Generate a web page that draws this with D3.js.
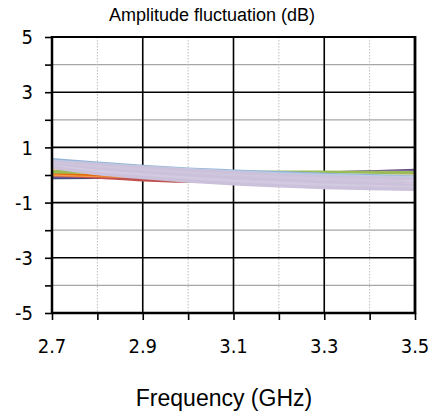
<!DOCTYPE html>
<html>
<head>
<meta charset="utf-8">
<script src="https://cdn.jsdelivr.net/npm/d3@7"></script>
<style>
  body { margin: 0; background: #fff; }
  .tick-label { font-family: "DejaVu Sans Condensed", "DejaVu Sans", sans-serif; font-stretch: condensed; font-size: 20px; fill: #000; }
  .title { font-family: "Liberation Sans", Arial, sans-serif; font-size: 18px; fill: #000; }
  .xlabel { font-family: "Liberation Sans", Arial, sans-serif; font-size: 23px; fill: #000; }
</style>
</head>
<body>
<svg width="436" height="412"></svg>
<script>
// frequencies (GHz)
var freqs = [2.7, 2.8, 2.9, 3.0, 3.1, 3.2, 3.3, 3.4, 3.5];
var xTicks = [2.7, 2.9, 3.1, 3.3, 3.5];
var yTicks = [5, 3, 1, -1, -3, -5];

// amplitude fluctuation per curve (dB), drawn in order
var gray      = [0.10, 0.00, -0.10, -0.18, -0.25, -0.30, -0.35, -0.40, -0.44];
var navy      = [-0.09, -0.08, -0.06, -0.04, -0.02, 0.01, 0.05, 0.09, 0.13];
var darkPurp  = [-0.06, -0.07, -0.06, -0.03, 0.00, 0.03, 0.07, 0.11, 0.16];
var purple    = [-0.03, -0.04, -0.04, -0.02, 0.01, 0.04, 0.07, 0.10, 0.13];
var red       = [0.02, -0.07, -0.17, -0.22, -0.20, -0.14, -0.06, 0.02, 0.07];
var orange2   = [0.02, -0.02, -0.05, -0.07, -0.08, -0.07, -0.06, -0.04, -0.03];
var orange    = [0.24, 0.10, 0.01, -0.04, -0.06, -0.06, -0.05, -0.03, -0.02];
var darkOr    = [0.09, 0.02, -0.04, -0.07, -0.08, -0.07, -0.05, -0.03, 0.00];
var peach     = [0.16, 0.08, 0.00, -0.06, -0.09, -0.10, -0.10, -0.09, -0.08];
var green     = [0.12, 0.11, 0.10, 0.09, 0.09, 0.10, 0.10, 0.09, 0.08];
var pink      = [0.30, 0.18, 0.08, 0.00, -0.05, -0.08, -0.08, -0.06, -0.04];
var aqua      = [0.42, 0.33, 0.25, 0.18, 0.12, 0.06, 0.01, -0.03, -0.06];
var lgreen    = [0.36, 0.28, 0.20, 0.14, 0.09, 0.05, 0.01, -0.02, -0.05];
var lblue     = [0.55, 0.43, 0.31, 0.21, 0.14, 0.08, 0.02, -0.03, -0.08];
var lblue2    = [0.50, 0.39, 0.28, 0.19, 0.11, 0.04, -0.02, -0.06, -0.10];
var lav1      = [0.47, 0.37, 0.27, 0.17, 0.08, 0.00, -0.06, -0.10, -0.14];
var lav2      = [0.41, 0.29, 0.18, 0.08, -0.01, -0.09, -0.15, -0.21, -0.26];
var lav3      = [0.36, 0.22, 0.09, -0.02, -0.11, -0.19, -0.26, -0.32, -0.37];
var lav4      = [0.32, 0.13, 0.00, -0.12, -0.22, -0.30, -0.37, -0.42, -0.46];
var lav5      = [0.29, 0.05, -0.09, -0.22, -0.32, -0.39, -0.45, -0.49, -0.52];

var curves = [gray, navy, darkPurp, purple, red, orange2, orange, darkOr, peach, green, pink,
              aqua, lgreen, lblue, lblue2, lav1, lav2, lav3, lav4, lav5];
var colors = ["#D9D9D9", "#1F497D", "#604A7B", "#8064A2", "#C0504D", "#F79646", "#F79646",
              "#E46C0A", "#FAC090", "#9BBB59", "#E6B9B8", "#93CDDD", "#D7E4BD", "#95B3D7",
              "#B9CDE5", "#CCC1DA", "#CFC6DE", "#CCC1DA", "#D2CAE0", "#CCC1DA"];

var svg = d3.select("svg");
var pLeft = 52, pRight = 415, pTop = 37, pBottom = 313;

var x = d3.scaleLinear().domain([2.7, 3.5]).range([pLeft, pRight]);
var y = d3.scaleLinear().domain([-5, 5]).range([pBottom, pTop]);

var g = svg.append("g");

// minor horizontal grid
g.selectAll(".hminor").data([4, 2, 0, -2, -4]).enter().append("line")
  .attr("x1", pLeft).attr("x2", pRight)
  .attr("y1", function(d) { return y(d); }).attr("y2", function(d) { return y(d); })
  .attr("stroke", "#a6a6a6").attr("stroke-width", 1.2);

// minor vertical dotted grid
g.selectAll(".vminor").data([2.8, 3.0, 3.2, 3.4]).enter().append("line")
  .attr("x1", function(d) { return x(d); }).attr("x2", function(d) { return x(d); })
  .attr("y1", pTop).attr("y2", pBottom)
  .attr("stroke", "#bdbdbd").attr("stroke-width", 1).attr("stroke-dasharray", "1.5,1.5");

// major grid
g.selectAll(".hmajor").data([5, 3, 1, -1, -3]).enter().append("line")
  .attr("x1", pLeft).attr("x2", pRight)
  .attr("y1", function(d) { return y(d); }).attr("y2", function(d) { return y(d); })
  .attr("stroke", "#000").attr("stroke-width", 1.6);
g.selectAll(".vmajor").data([2.9, 3.1, 3.3]).enter().append("line")
  .attr("x1", function(d) { return x(d); }).attr("x2", function(d) { return x(d); })
  .attr("y1", pTop).attr("y2", pBottom)
  .attr("stroke", "#000").attr("stroke-width", 1.6);

// curves
var line = d3.line()
  .x(function(d, i) { return x(freqs[i]); })
  .y(function(d) { return y(d); })
  .curve(d3.curveMonotoneX);

svg.append("g").selectAll("path").data(curves).enter().append("path")
  .attr("d", line)
  .attr("fill", "none")
  .attr("stroke", function(d, i) { return colors[i]; })
  .attr("stroke-width", 3.5);

// axes
var yAxis = d3.axisLeft(y).tickValues(d3.range(-5, 6, 1)).tickSize(7).tickFormat("");
var xAxis = d3.axisBottom(x).tickValues(d3.range(0, 9).map(function(i) { return 2.7 + i * 0.1; })).tickSize(7).tickFormat("");

var ya = svg.append("g").attr("transform", "translate(" + pLeft + ",0)").call(yAxis);
var xa = svg.append("g").attr("transform", "translate(0," + pBottom + ")").call(xAxis);
[ya, xa].forEach(function(a) {
  a.select(".domain").remove();
  a.selectAll("line").attr("stroke", "#000").attr("stroke-width", 1.6);
});

// frame lines
svg.append("line").attr("x1", pLeft).attr("x2", pLeft).attr("y1", pTop - 1).attr("y2", pBottom + 1)
  .attr("stroke", "#000").attr("stroke-width", 2.5);
svg.append("line").attr("x1", pRight).attr("x2", pRight).attr("y1", pTop - 1).attr("y2", pBottom + 1)
  .attr("stroke", "#000").attr("stroke-width", 2.8);
svg.append("line").attr("x1", pLeft).attr("x2", pRight).attr("y1", pBottom).attr("y2", pBottom)
  .attr("stroke", "#000").attr("stroke-width", 2.5);
svg.append("line").attr("x1", pLeft).attr("x2", pRight).attr("y1", pTop).attr("y2", pTop)
  .attr("stroke", "#000").attr("stroke-width", 2);

// tick labels
svg.selectAll(".ylab").data(yTicks).enter().append("text")
  .attr("class", "tick-label")
  .attr("x", 33).attr("y", function(d) { return y(d); })
  .attr("dy", "0.36em")
  .attr("text-anchor", "end")
  .text(function(d) { return d; });

svg.selectAll(".xlab").data(xTicks).enter().append("text")
  .attr("class", "tick-label")
  .attr("x", function(d) { return x(d); }).attr("y", 353)
  .attr("text-anchor", "middle")
  .text(function(d) { return d.toFixed(1); });

svg.append("text").attr("class", "title")
  .attr("x", 212).attr("y", 21).attr("text-anchor", "middle")
  .text("Amplitude fluctuation (dB)");

svg.append("text").attr("class", "xlabel")
  .attr("x", 224).attr("y", 406).attr("text-anchor", "middle")
  .text("Frequency (GHz)");
</script>
</body>
</html>
